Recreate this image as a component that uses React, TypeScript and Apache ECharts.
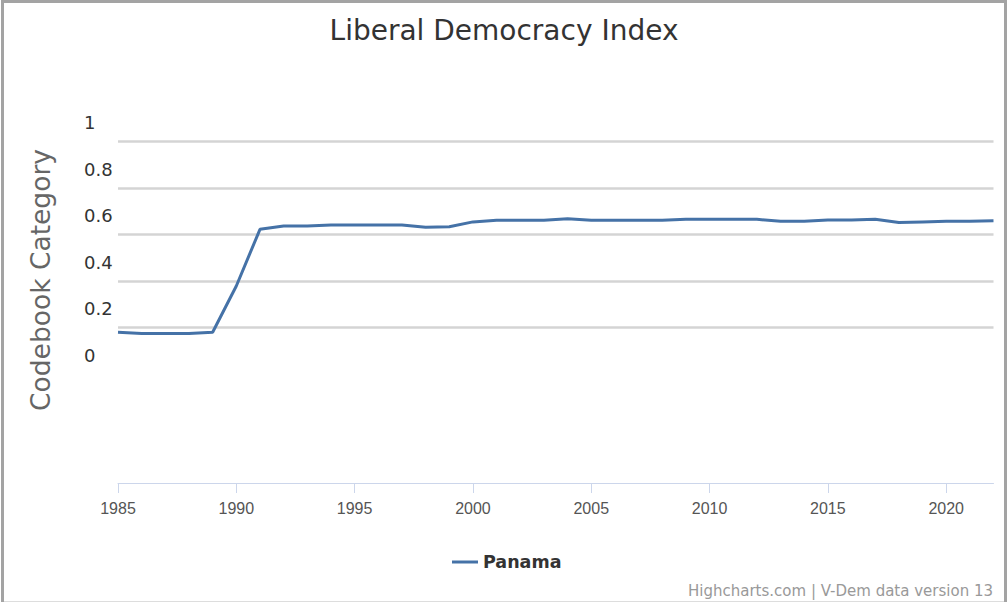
import React, { useEffect, useRef } from "react";
import * as echarts from "echarts";

const years = [
  1985, 1986, 1987, 1988, 1989, 1990, 1991, 1992, 1993, 1994,
  1995, 1996, 1997, 1998, 1999, 2000, 2001, 2002, 2003, 2004,
  2005, 2006, 2007, 2008, 2009, 2010, 2011, 2012, 2013, 2014,
  2015, 2016, 2017, 2018, 2019, 2020, 2021, 2022,
];
const panama = [
  0.098, 0.093, 0.093, 0.093, 0.098, 0.297, 0.541, 0.555, 0.555, 0.56,
  0.56, 0.56, 0.56, 0.55, 0.552, 0.573, 0.58, 0.58, 0.58, 0.587,
  0.58, 0.58, 0.58, 0.58, 0.584, 0.584, 0.584, 0.584, 0.576, 0.576,
  0.581, 0.581, 0.584, 0.57, 0.573, 0.576, 0.576, 0.578,
];
const yTickLabels = [0, 0.2, 0.4, 0.6, 0.8, 1];
const xTickLabels = [1985, 1990, 1995, 2000, 2005, 2010, 2015, 2020];
const titleText = "Liberal Democracy Index";
const yAxisTitle = "Codebook Category";
const seriesName = "Panama";
const creditText = "Highcharts.com | V-Dem data version 13";

export default function App() {
  const ref = useRef<HTMLDivElement>(null);
  useEffect(() => {
    if (!ref.current) return;
    const chart = echarts.init(ref.current, null, { renderer: "svg" });
    const font = "'Liberation Sans', Arial, sans-serif";
    const wide = "'DejaVu Sans', Verdana, sans-serif";
    chart.setOption({
      animation: false,
      backgroundColor: "#ffffff",
      title: {
        text: titleText,
        left: "center",
        top: 11,
        textStyle: { fontFamily: wide, fontSize: 28, fontWeight: "normal", color: "#333333" },
      },
      legend: {
        data: [{ name: seriesName, icon: "rect" }],
        left: 447,
        top: 548,
        itemWidth: 26,
        itemHeight: 3,
        itemGap: 8,
        textStyle: { fontFamily: wide, fontSize: 17.5, fontWeight: "bold", color: "#333333" },
      },
      grid: [
        { left: 118, right: 14.5, top: 122.7, height: 360.3 },
        { left: 118, right: 14.5, top: 141.7, height: 185.8 },
      ],
      xAxis: [
        {
          type: "value",
          gridIndex: 0,
          min: 1985,
          max: 2022,
          interval: 5,
          splitLine: { show: false },
          axisLine: { show: true, onZero: false, lineStyle: { color: "#ccd6eb", width: 1 } },
          axisTick: {
            show: true,
            length: 10,
            customValues: xTickLabels,
            lineStyle: { color: "#ccd6eb", width: 1 },
          },
          axisLabel: {
            customValues: xTickLabels,
            margin: 17,
            fontFamily: font,
            fontSize: 16,
            color: "#555555",
            formatter: (v: number) => String(v),
          },
        },
        {
          type: "value",
          gridIndex: 1,
          min: 1985,
          max: 2022,
          show: false,
        },
      ],
      yAxis: [
        {
          type: "value",
          gridIndex: 0,
          min: -0.551,
          max: 1,
          splitLine: { show: false },
          axisLine: { show: false },
          axisTick: { show: false },
          axisLabel: {
            customValues: yTickLabels,
            align: "left",
            margin: 34,
            fontFamily: wide,
            fontSize: 18,
            color: "#333333",
            formatter: (v: number) => String(v),
          },
        },
        {
          type: "value",
          gridIndex: 1,
          min: 0.2,
          max: 1,
          interval: 0.2,
          axisLine: { show: false },
          axisTick: { show: false },
          axisLabel: { show: false },
          splitLine: { show: true, lineStyle: { color: "#d4d4d4", width: 2.5 } },
        },
      ],
      graphic: [
        {
          type: "text",
          x: 40,
          y: 280,
          rotation: Math.PI / 2,
          style: {
            text: yAxisTitle,
            fontFamily: wide,
            fontSize: 26.5,
            fill: "#666666",
            align: "center",
            verticalAlign: "middle",
          },
        },
        {
          type: "text",
          right: 15,
          top: 583,
          style: {
            text: creditText,
            fontFamily: wide,
            fontSize: 15,
            fill: "#999999",
          },
        },
        {
          type: "polyline",
          shape: { points: [[2.5, 602], [2.5, 1.5], [1005.5, 1.5], [1005.5, 602]] },
          style: { stroke: "#a3a3a3", lineWidth: 3, fill: "none" },
          silent: true,
        },
        {
          type: "line",
          shape: { x1: 4, y1: 601.5, x2: 1004, y2: 601.5 },
          style: { stroke: "#dddddd", lineWidth: 1 },
          silent: true,
        },
      ],
      series: [
        {
          name: seriesName,
          type: "line",
          xAxisIndex: 0,
          yAxisIndex: 0,
          data: years.map((y, i) => [y, panama[i]]),
          symbol: "none",
          showSymbol: false,
          color: "#4572a7",
          lineStyle: { color: "#4572a7", width: 3 },
          z: 5,
        },
      ],
    });
    return () => chart.dispose();
  }, []);
  return (
    <div style={{ position: "fixed", left: 0, top: 0, width: 1008, height: 602 }}>
      <div ref={ref} style={{ width: 1008, height: 602 }} />
    </div>
  );
}
